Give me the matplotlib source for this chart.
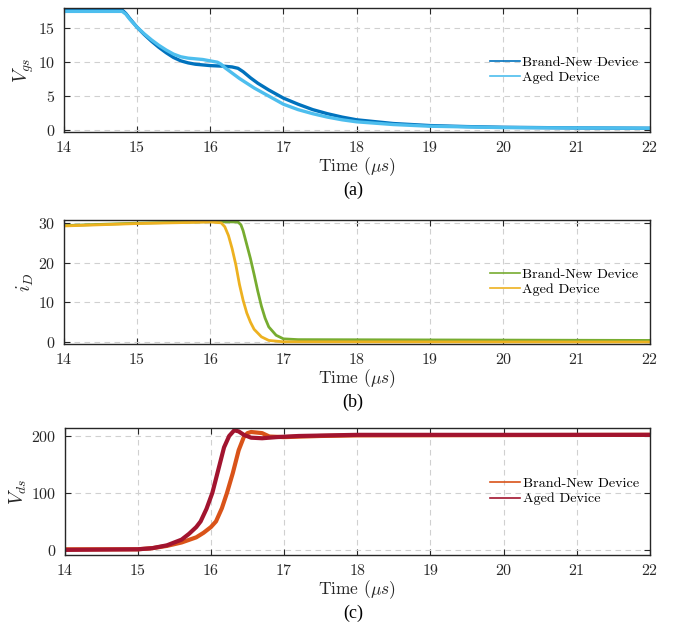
import matplotlib
matplotlib.use("Agg")
import matplotlib.pyplot as plt

# ---- data ----
t_vgs_new = [14.0, 14.8, 14.85, 14.9, 15.0, 15.1, 15.2, 15.3, 15.4, 15.5, 15.6, 15.7, 15.8, 15.9, 16.0,
             16.1, 16.2, 16.3, 16.38, 16.45, 16.55, 16.65, 16.8, 17.0, 17.2, 17.4, 17.6, 17.8, 18.0,
             18.5, 19.0, 19.5, 20.0, 21.0, 22.0]
vgs_new = [17.7, 17.7, 17.2, 16.5, 15.2, 14.1, 13.1, 12.2, 11.4, 10.7, 10.2, 9.9, 9.7, 9.6, 9.5,
           9.45, 9.4, 9.3, 9.1, 8.6, 7.7, 6.9, 5.9, 4.7, 3.8, 3.0, 2.4, 1.9, 1.5,
           0.95, 0.65, 0.5, 0.4, 0.3, 0.25]
t_vgs_aged = [14.0, 14.8, 14.85, 14.9, 15.0, 15.1, 15.2, 15.3, 15.4, 15.5, 15.6, 15.7, 15.8, 15.9, 16.0,
              16.1, 16.15, 16.2, 16.3, 16.4, 16.5, 16.6, 16.8, 17.0, 17.2, 17.4, 17.6, 17.8, 18.0,
              18.5, 19.0, 19.5, 20.0, 21.0, 22.0]
vgs_aged = [17.5, 17.5, 17.1, 16.4, 15.2, 14.2, 13.3, 12.5, 11.8, 11.2, 10.8, 10.6, 10.5, 10.4, 10.2,
            10.0, 9.7, 9.2, 8.4, 7.6, 6.9, 6.2, 5.0, 3.8, 3.0, 2.4, 1.9, 1.5, 1.2,
            0.8, 0.55, 0.45, 0.35, 0.3, 0.25]

t_id_new = [14.0, 15.0, 16.0, 16.38, 16.42, 16.45, 16.5, 16.55, 16.6, 16.65, 16.7, 16.75, 16.8, 16.9,
            17.0, 17.2, 22.0]
id_new = [29.3, 29.9, 30.3, 30.2, 29.5, 28.0, 24.5, 21.0, 17.0, 12.8, 9.0, 6.0, 3.8, 1.7,
          0.8, 0.6, 0.4]
t_id_aged = [14.0, 15.0, 16.0, 16.15, 16.2, 16.25, 16.3, 16.35, 16.4, 16.45, 16.5, 16.55, 16.6, 16.7,
             16.8, 17.0, 22.0]
id_aged = [29.2, 29.8, 30.2, 30.0, 29.0, 26.8, 23.5, 19.5, 14.5, 10.5, 7.3, 5.0, 3.2, 1.3,
           0.4, 0.05, 0.0]

t_vds_new = [14.0, 15.0, 15.2, 15.4, 15.6, 15.8, 15.9, 16.0, 16.07, 16.15, 16.22, 16.3, 16.38, 16.45,
             16.5, 16.55, 16.7, 16.8, 17.0, 17.5, 18.0, 22.0]
vds_new = [1, 1, 3, 7, 13, 22, 30, 40, 50, 73, 100, 135, 175, 198,
           205, 207, 205, 199, 198, 200, 201, 202]
t_vds_aged = [14.0, 15.0, 15.2, 15.4, 15.6, 15.7, 15.8, 15.86, 15.94, 16.02, 16.1, 16.18, 16.25, 16.32,
              16.38, 16.45, 16.55, 16.7, 16.9, 17.2, 18.0, 22.0]
vds_aged = [0, 1, 3, 8, 18, 28, 40, 50, 72, 100, 140, 180, 200, 210,
            208, 202, 197, 196, 198, 200, 202, 202]

labels = ["Brand-New Device", "Aged Device"]
x_ticks = [14, 15, 16, 17, 18, 19, 20, 21, 22]

# ---- style ----
plt.rcParams['font.family'] = ['cmr10', 'DejaVu Serif']
plt.rcParams['mathtext.fontset'] = 'cm'
plt.rcParams['axes.formatter.use_mathtext'] = True

W, H = 674, 629
fig = plt.figure(figsize=(W / 100, H / 100), dpi=100)


def make_ax(left, top, right, bottom):
    return fig.add_axes([left / W, 1 - bottom / H, (right - left) / W, (bottom - top) / H])


axes_specs = [
    (63.5, 8, 650, 132),
    (63.5, 220, 650, 344),
    (64.5, 428, 650, 555),
]
panels = [
    dict(series=[(t_vgs_new, vgs_new, '#0072BD'), (t_vgs_aged, vgs_aged, '#4DBEEE')],
         ylim=(-0.3, 18.0), yticks=[0, 5, 10, 15], ylabel=r'$V_{gs}$', lw=2.4, cap='(a)'),
    dict(series=[(t_id_new, id_new, '#77AC30'), (t_id_aged, id_aged, '#EDB120')],
         ylim=(-0.5, 30.7), yticks=[0, 10, 20, 30], ylabel=r'$i_D$', lw=2.0, cap='(b)'),
    dict(series=[(t_vds_new, vds_new, '#D95319'), (t_vds_aged, vds_aged, '#A2142F')],
         ylim=(-9, 214), yticks=[0, 100, 200], ylabel=r'$V_{ds}$', lw=3.0, cap='(c)'),
]

for spec, p in zip(axes_specs, panels):
    ax = make_ax(*spec)
    handles = []
    for (t, v, c), lab in zip(p['series'], labels):
        ax.plot(t, v, color=c, lw=p['lw'], solid_joinstyle='round')
        h, = ax.plot([], [], color=c, lw=1.2, label=lab)
        handles.append(h)
    ax.set_xlim(14, 22)
    ax.set_ylim(*p['ylim'])
    ax.set_xticks(x_ticks)
    ax.set_yticks(p['yticks'])
    ax.grid(True, color='#d0d0d0', ls=(0, (5, 4)), lw=0.8)
    ax.set_axisbelow(True)
    ax.tick_params(direction='in', top=True, right=True, length=4, width=0.8,
                   labelsize=11.5, colors='#262626', pad=6)
    for s in ax.spines.values():
        s.set_color('#262626')
        s.set_linewidth(1.0)
    ax.set_xlabel(r'Time ($\mu s$)', fontsize=12.5, color='#262626', labelpad=0)
    ax.set_ylabel(p['ylabel'], fontsize=14, color='#262626', labelpad=1)
    ax.legend(handles=handles, loc='center left', bbox_to_anchor=(0.727, 0.5), frameon=False,
              fontsize=10.2, handlelength=2.1, handletextpad=0.2, labelspacing=0.15,
              borderaxespad=0, borderpad=0)
    bottom_px = spec[3]
    fig.text(353 / W, 1 - (bottom_px + 58) / H, p['cap'], ha='center', va='center',
             fontsize=13, family='Liberation Serif')

fig.savefig('out.png', dpi=100)
